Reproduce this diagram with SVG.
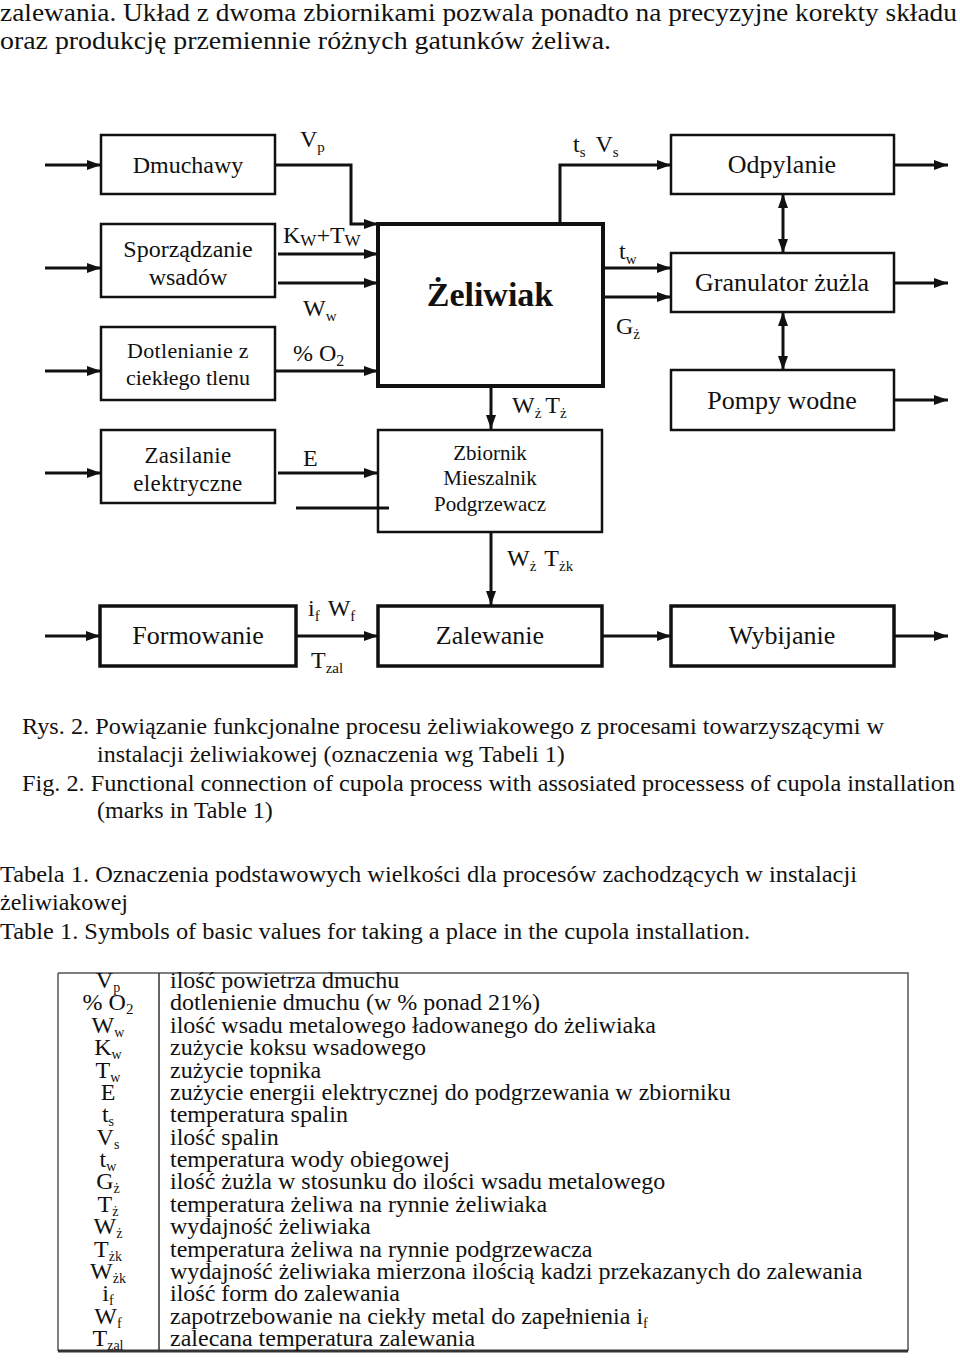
<svg xmlns="http://www.w3.org/2000/svg" width="960" height="1360" viewBox="0 0 960 1360">
<style>
text{font-family:"Liberation Serif","Times New Roman",serif;fill:#111}
.box{fill:none;stroke:#111;stroke-width:2.5}
.thick{fill:none;stroke:#111;stroke-width:4}
.mid{fill:none;stroke:#111;stroke-width:3.5}
.c{fill:none;stroke:#111;stroke-width:3}
.a{marker-end:url(#ah)}
.d{marker-end:url(#ah);marker-start:url(#ah)}
.t24{font-size:24px}
.t26{font-size:26px}
.t22{font-size:22px}
.t21{font-size:21px}
.mid-a{text-anchor:middle}
.tbl{fill:none;stroke:#555;stroke-width:1.5}
</style>
<defs>
<marker id="ah" viewBox="0 0 14 10" refX="14" refY="5" markerWidth="14" markerHeight="10" markerUnits="userSpaceOnUse" orient="auto-start-reverse">
<path d="M0,0 L14,5 L0,10 z" fill="#111"/>
</marker>
</defs>
<rect width="960" height="1360" fill="#fff"/>

<g id="intro" font-size="26">
<text x="0" y="21" textLength="957" lengthAdjust="spacingAndGlyphs">zalewania. Układ z dwoma zbiornikami pozwala ponadto na precyzyjne korekty składu</text>
<text x="0" y="49" textLength="611" lengthAdjust="spacingAndGlyphs">oraz produkcję przemiennie różnych gatunków żeliwa.</text>
</g>

<g id="connectors">
<path class="c a" d="M45,165 H101"/>
<path class="c a" d="M275,165 H351 V224 H378"/>
<path class="c a" d="M45,268 H101"/>
<path class="c a" d="M278,254 H378"/>
<path class="c a" d="M278,283 H378"/>
<path class="c a" d="M45,371 H101"/>
<path class="c a" d="M275,371 H378"/>
<path class="c a" d="M45,473 H101"/>
<path class="c a" d="M278,473 H378"/>
<path class="c" d="M296,508 H389" stroke-width="2.5"/>
<path class="c a" d="M560,224 V165 H671"/>
<path class="c a" d="M894,165 H948"/>
<path class="c d" d="M783,194 V253"/>
<path class="c a" d="M603,268 H671"/>
<path class="c a" d="M603,297 H671"/>
<path class="c a" d="M894,283 H948"/>
<path class="c d" d="M783,312 V370"/>
<path class="c a" d="M894,400 H948"/>
<path class="c a" d="M491,386 V429"/>
<path class="c a" d="M491,532 V605"/>
<path class="c a" d="M45,636 H100"/>
<path class="c a" d="M296,636 H378"/>
<path class="c a" d="M602,636 H671"/>
<path class="c a" d="M894,636 H948"/>
</g>

<g id="labels" class="t24">
<text x="300" y="147">V<tspan font-size="15" dy="5">p</tspan></text>
<text x="573" y="152">t<tspan font-size="15" dy="5">s</tspan><tspan dy="-5" dx="10">V</tspan><tspan font-size="15" dy="5">s</tspan></text>
<text x="283" y="243">K<tspan font-size="17" dy="3">W</tspan><tspan dy="-3">+T</tspan><tspan font-size="17" dy="3">W</tspan></text>
<text x="303" y="316">W<tspan font-size="15" dy="5">w</tspan></text>
<text x="293" y="361">% O<tspan font-size="16" dy="5">2</tspan></text>
<text x="303" y="466">E</text>
<text x="619" y="259">t<tspan font-size="15" dy="5">w</tspan></text>
<text x="616" y="334">G<tspan font-size="15" dy="5">ż</tspan></text>
<text x="512" y="413">W<tspan font-size="15" dy="5">ż</tspan><tspan dy="-5" dx="4">T</tspan><tspan font-size="15" dy="5">ż</tspan></text>
<text x="507" y="566">W<tspan font-size="15" dy="5">ż</tspan><tspan dy="-5" dx="8">T</tspan><tspan font-size="15" dy="5">żk</tspan></text>
<text x="308" y="616">i<tspan font-size="15" dy="5">f</tspan><tspan dy="-5" dx="8">W</tspan><tspan font-size="15" dy="5">f</tspan></text>
<text x="311" y="668">T<tspan font-size="15" dy="5">zal</tspan></text>
</g>

<g id="dmuchawy">
<rect class="box" x="101" y="135" width="174" height="59"/>
<text class="t24 mid-a" x="188" y="173">Dmuchawy</text>
</g>
<g id="sporzadzanie">
<rect class="box" x="101" y="224" width="174" height="73"/>
<text class="t24 mid-a" x="188" y="257">Sporządzanie</text>
<text class="t24 mid-a" x="188" y="285">wsadów</text>
</g>
<g id="dotlenianie">
<rect class="box" x="101" y="327" width="174" height="73"/>
<text class="t22 mid-a" x="188" y="358" letter-spacing="0.3">Dotlenianie z</text>
<text class="t22 mid-a" x="188" y="385">ciekłego tlenu</text>
</g>
<g id="zasilanie">
<rect class="box" x="101" y="430" width="174" height="73"/>
<text class="mid-a" font-size="23" x="188" y="463" letter-spacing="0.3">Zasilanie</text>
<text class="mid-a" font-size="23" x="188" y="491" letter-spacing="0.3">elektryczne</text>
</g>
<g id="zeliwiak">
<rect class="thick" x="378" y="224" width="225" height="162"/>
<text class="mid-a" font-size="34" font-weight="bold" x="490" y="306">Żeliwiak</text>
</g>
<g id="zbiornik">
<rect class="box" x="378" y="430" width="224" height="102"/>
<text class="t21 mid-a" x="490" y="460">Zbiornik</text>
<text class="t21 mid-a" x="490" y="485">Mieszalnik</text>
<text class="t21 mid-a" x="490" y="511">Podgrzewacz</text>
</g>
<g id="odpylanie">
<rect class="box" x="671" y="135" width="223" height="59"/>
<text class="t26 mid-a" x="782" y="173">Odpylanie</text>
</g>
<g id="granulator">
<rect class="box" x="671" y="253" width="223" height="59"/>
<text class="t26 mid-a" x="782" y="291">Granulator żużla</text>
</g>
<g id="pompy">
<rect class="box" x="671" y="370" width="223" height="60"/>
<text class="t26 mid-a" x="782" y="409">Pompy wodne</text>
</g>
<g id="formowanie">
<rect class="mid" x="100" y="606" width="196" height="60"/>
<text class="t26 mid-a" x="198" y="644">Formowanie</text>
</g>
<g id="zalewanie">
<rect class="mid" x="378" y="606" width="224" height="60"/>
<text class="t26 mid-a" x="490" y="644">Zalewanie</text>
</g>
<g id="wybijanie">
<rect class="mid" x="671" y="606" width="223" height="60"/>
<text class="t26 mid-a" x="782" y="644">Wybijanie</text>
</g>

<g id="captions" class="t24">
<text x="22" y="734" textLength="862" lengthAdjust="spacingAndGlyphs">Rys. 2. Powiązanie funkcjonalne procesu żeliwiakowego z procesami towarzyszącymi w</text>
<text x="97" y="762">instalacji żeliwiakowej (oznaczenia wg Tabeli 1)</text>
<text x="22" y="791" textLength="933" lengthAdjust="spacingAndGlyphs">Fig. 2. Functional connection of cupola process with assosiated processess of cupola installation</text>
<text x="97" y="818">(marks in Table 1)</text>
<text x="0" y="882" textLength="857" lengthAdjust="spacingAndGlyphs">Tabela 1. Oznaczenia podstawowych wielkości dla procesów zachodzących w instalacji</text>
<text x="0" y="910">żeliwiakowej</text>
<text x="0" y="939" textLength="750" lengthAdjust="spacingAndGlyphs">Table 1. Symbols of basic values for taking a place in the cupola installation.</text>
</g>

<g id="table">
<path class="tbl" d="M58,973 H908 V1351"/>
<path class="tbl" d="M58,973 V1351"/>
<path d="M58,1351 H908" stroke="#333" stroke-width="3" fill="none"/>
<path d="M159,973 V1351" stroke="#333" stroke-width="1.5" fill="none"/>
<g class="t24 mid-a">
<text x="108" y="988">V<tspan font-size="14" dy="4">p</tspan></text>
<text x="108" y="1010.4">% O<tspan font-size="15" dy="4">2</tspan></text>
<text x="108" y="1032.8">W<tspan font-size="14" dy="4">w</tspan></text>
<text x="108" y="1055.1">K<tspan font-size="14" dy="4">w</tspan></text>
<text x="108" y="1077.5">T<tspan font-size="14" dy="4">w</tspan></text>
<text x="108" y="1099.9">E</text>
<text x="108" y="1122.3">t<tspan font-size="14" dy="4">s</tspan></text>
<text x="108" y="1144.6">V<tspan font-size="14" dy="4">s</tspan></text>
<text x="108" y="1167">t<tspan font-size="14" dy="4">w</tspan></text>
<text x="108" y="1189.4">G<tspan font-size="14" dy="4">ż</tspan></text>
<text x="108" y="1211.8">T<tspan font-size="14" dy="4">ż</tspan></text>
<text x="108" y="1234.1">W<tspan font-size="14" dy="4">ż</tspan></text>
<text x="108" y="1256.5">T<tspan font-size="14" dy="4">żk</tspan></text>
<text x="108" y="1278.9">W<tspan font-size="14" dy="4">żk</tspan></text>
<text x="108" y="1301.3">i<tspan font-size="14" dy="4">f</tspan></text>
<text x="108" y="1323.6">W<tspan font-size="14" dy="4">f</tspan></text>
<text x="108" y="1346">T<tspan font-size="14" dy="4">zal</tspan></text>
</g>
<g class="t24">
<text x="170" y="988">ilość powietrza dmuchu</text>
<text x="170" y="1010.4">dotlenienie dmuchu (w % ponad 21%)</text>
<text x="170" y="1032.8">ilość wsadu metalowego ładowanego do żeliwiaka</text>
<text x="170" y="1055.1">zużycie koksu wsadowego</text>
<text x="170" y="1077.5">zużycie topnika</text>
<text x="170" y="1099.9">zużycie energii elektrycznej do podgrzewania w zbiorniku</text>
<text x="170" y="1122.3">temperatura spalin</text>
<text x="170" y="1144.6">ilość spalin</text>
<text x="170" y="1167">temperatura wody obiegowej</text>
<text x="170" y="1189.4">ilość żużla w stosunku do ilości wsadu metalowego</text>
<text x="170" y="1211.8">temperatura żeliwa na rynnie żeliwiaka</text>
<text x="170" y="1234.1">wydajność żeliwiaka</text>
<text x="170" y="1256.5">temperatura żeliwa na rynnie podgrzewacza</text>
<text x="170" y="1278.9">wydajność żeliwiaka mierzona ilością kadzi przekazanych do zalewania</text>
<text x="170" y="1301.3">ilość form do zalewania</text>
<text x="170" y="1323.6">zapotrzebowanie na ciekły metal do zapełnienia i<tspan font-size="14" dy="4">f</tspan></text>
<text x="170" y="1346">zalecana temperatura zalewania</text>
</g>
</g>
</svg>
